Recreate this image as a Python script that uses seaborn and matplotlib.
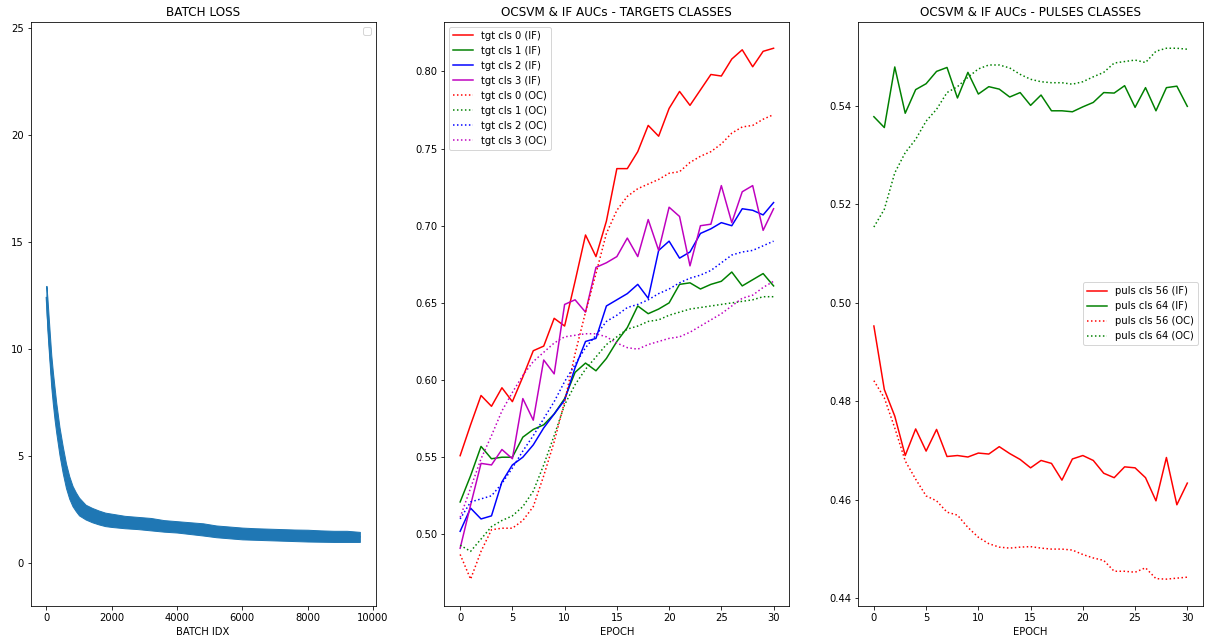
import numpy as np
import matplotlib
matplotlib.use("Agg")
import matplotlib.pyplot as plt
import seaborn as sns

# ---------------- data ----------------
epochs = np.arange(31)

# BATCH LOSS: band (lower / upper envelope and centre)
loss_batch = [0, 30, 60, 100, 150, 200, 250, 300, 400, 500, 600, 700, 800, 900, 1000,
              1200, 1400, 1600, 1800, 2000, 2400, 2800, 3200, 3600, 4000, 4400, 4800,
              5200, 5600, 6000, 6400, 6800, 7200, 7600, 8000, 8400, 8800, 9200, 9600]
loss_mid = [12.4, 11.6, 10.95, 10.0, 8.95, 8.1, 7.4, 6.8, 5.7, 4.8, 4.05, 3.5, 3.1, 2.82, 2.6,
            2.35, 2.22, 2.1, 2.02, 1.97, 1.9, 1.85, 1.8, 1.74, 1.68, 1.62, 1.55,
            1.48, 1.42, 1.38, 1.35, 1.33, 1.31, 1.29, 1.27, 1.25, 1.24, 1.23, 1.22]
loss_hi = [12.95, 12.4, 11.7, 10.8, 9.7, 8.9, 8.2, 7.5, 6.35, 5.45, 4.65, 4.05, 3.6, 3.3, 3.05,
           2.72, 2.57, 2.45, 2.35, 2.3, 2.2, 2.15, 2.1, 2.0, 1.95, 1.9, 1.85,
           1.75, 1.7, 1.65, 1.62, 1.6, 1.58, 1.56, 1.55, 1.52, 1.5, 1.5, 1.45]
loss_lo = [11.9, 10.9, 10.2, 9.3, 8.2, 7.4, 6.7, 6.1, 5.05, 4.2, 3.5, 3.0, 2.65, 2.42, 2.22,
           2.03, 1.9, 1.8, 1.72, 1.68, 1.62, 1.58, 1.52, 1.46, 1.42, 1.35, 1.28,
           1.2, 1.15, 1.1, 1.08, 1.06, 1.04, 1.02, 1.0, 0.99, 0.98, 0.98, 0.98]

# Target classes AUCs
tgt_if = {
    0: [0.551, 0.571, 0.590, 0.583, 0.595, 0.586, 0.602, 0.619, 0.622, 0.640, 0.635,
        0.664, 0.694, 0.680, 0.703, 0.737, 0.737, 0.748, 0.765, 0.758, 0.776, 0.787,
        0.778, 0.788, 0.798, 0.797, 0.808, 0.814, 0.803, 0.813, 0.815],
    1: [0.521, 0.538, 0.557, 0.549, 0.550, 0.550, 0.563, 0.568, 0.571, 0.578, 0.588,
        0.605, 0.611, 0.606, 0.614, 0.625, 0.634, 0.648, 0.643, 0.646, 0.650, 0.662,
        0.663, 0.659, 0.662, 0.664, 0.670, 0.661, 0.665, 0.669, 0.661],
    2: [0.502, 0.517, 0.510, 0.512, 0.534, 0.545, 0.550, 0.558, 0.569, 0.578, 0.587,
        0.608, 0.625, 0.627, 0.648, 0.652, 0.656, 0.662, 0.653, 0.684, 0.690, 0.679,
        0.683, 0.695, 0.698, 0.702, 0.700, 0.711, 0.710, 0.707, 0.715],
    3: [0.491, 0.519, 0.546, 0.545, 0.555, 0.549, 0.588, 0.574, 0.613, 0.604, 0.649,
        0.652, 0.644, 0.673, 0.676, 0.680, 0.692, 0.680, 0.704, 0.684, 0.712, 0.706,
        0.674, 0.700, 0.701, 0.726, 0.702, 0.722, 0.726, 0.697, 0.711],
}
tgt_oc = {
    0: [0.487, 0.471, 0.489, 0.503, 0.504, 0.504, 0.509, 0.518, 0.538, 0.560, 0.586,
        0.617, 0.644, 0.669, 0.695, 0.710, 0.719, 0.724, 0.727, 0.730, 0.734, 0.735,
        0.741, 0.745, 0.748, 0.753, 0.760, 0.764, 0.765, 0.769, 0.772],
    1: [0.493, 0.489, 0.497, 0.505, 0.509, 0.512, 0.518, 0.528, 0.545, 0.564, 0.584,
        0.597, 0.607, 0.615, 0.623, 0.628, 0.633, 0.635, 0.638, 0.639, 0.642, 0.644,
        0.646, 0.647, 0.648, 0.649, 0.650, 0.651, 0.652, 0.654, 0.654],
    2: [0.510, 0.521, 0.523, 0.525, 0.533, 0.543, 0.554, 0.564, 0.575, 0.586, 0.599,
        0.610, 0.621, 0.629, 0.638, 0.642, 0.647, 0.649, 0.652, 0.656, 0.659, 0.663,
        0.666, 0.668, 0.671, 0.676, 0.681, 0.683, 0.684, 0.687, 0.690],
    3: [0.511, 0.530, 0.549, 0.564, 0.580, 0.592, 0.603, 0.612, 0.618, 0.624, 0.628,
        0.629, 0.630, 0.630, 0.628, 0.624, 0.621, 0.620, 0.623, 0.625, 0.627, 0.628,
        0.631, 0.635, 0.639, 0.643, 0.648, 0.653, 0.655, 0.660, 0.664],
}

# Pulse classes AUCs
puls_if = {
    56: [0.4953, 0.4824, 0.4770, 0.4690, 0.4744, 0.4699, 0.4743, 0.4688, 0.4690, 0.4687,
         0.4695, 0.4693, 0.4708, 0.4694, 0.4682, 0.4665, 0.4680, 0.4674, 0.4640, 0.4683,
         0.4690, 0.4680, 0.4654, 0.4645, 0.4667, 0.4665, 0.4645, 0.4598, 0.4686, 0.4590,
         0.4634],
    64: [0.5378, 0.5356, 0.5479, 0.5385, 0.5433, 0.5445, 0.5470, 0.5478, 0.5416, 0.5468,
         0.5424, 0.5439, 0.5434, 0.5418, 0.5427, 0.5401, 0.5422, 0.5390, 0.5390, 0.5388,
         0.5398, 0.5407, 0.5427, 0.5426, 0.5441, 0.5397, 0.5437, 0.5390, 0.5437, 0.5440,
         0.5399],
}
puls_oc = {
    56: [0.4842, 0.4807, 0.4746, 0.4679, 0.4642, 0.4608, 0.4598, 0.4575, 0.4569, 0.4544,
         0.4524, 0.4511, 0.4504, 0.4502, 0.4504, 0.4505, 0.4502, 0.4500, 0.4500, 0.4498,
         0.4489, 0.4482, 0.4477, 0.4455, 0.4455, 0.4453, 0.4462, 0.4440, 0.4439, 0.4441,
         0.4443],
    64: [0.5154, 0.5190, 0.5264, 0.5305, 0.5332, 0.5369, 0.5393, 0.5427, 0.5439, 0.5458,
         0.5475, 0.5483, 0.5483, 0.5477, 0.5464, 0.5454, 0.5449, 0.5447, 0.5447, 0.5444,
         0.5449, 0.5459, 0.5468, 0.5487, 0.5490, 0.5493, 0.5488, 0.5511, 0.5517, 0.5517,
         0.5515],
}

tgt_colors = {0: "r", 1: "g", 2: "b", 3: "m"}
puls_colors = {56: "r", 64: "g"}

# ---------------- figure ----------------
fig, axes = plt.subplots(1, 3, figsize=(1210 / 72, 644 / 72), dpi=72)
fig.subplots_adjust(left=0.0254, right=0.9942, top=0.9663, bottom=0.0595, wspace=0.2)

# Batch loss
ax = axes[0]
ax.fill_between(loss_batch, loss_lo, loss_hi, color="#1f77b4", linewidth=1.0,
                edgecolor="#1f77b4")
sns.lineplot(x=np.array(loss_batch), y=np.array(loss_mid), color="#1f77b4", ax=ax)
ax.set_ylim(-2.0, 25.3)
ax.set_title("BATCH LOSS", fontsize=12)
ax.set_xlabel("BATCH IDX")
ax.set_ylabel("")
ax.legend(loc="upper right")

# Targets
ax = axes[1]
for c in [0, 1, 2, 3]:
    sns.lineplot(x=epochs, y=np.array(tgt_if[c]), color=tgt_colors[c],
                 label=f"tgt cls {c} (IF)", ax=ax)
for c in [0, 1, 2, 3]:
    sns.lineplot(x=epochs, y=np.array(tgt_oc[c]), color=tgt_colors[c], linestyle=":",
                 label=f"tgt cls {c} (OC)", ax=ax)
ax.set_title("OCSVM & IF AUCs - TARGETS CLASSES", fontsize=12)
ax.set_xlabel("EPOCH")
ax.set_ylabel("")
ax.legend(loc="upper left")

# Pulses
ax = axes[2]
for c in [56, 64]:
    sns.lineplot(x=epochs, y=np.array(puls_if[c]), color=puls_colors[c],
                 label=f"puls cls {c} (IF)", ax=ax)
for c in [56, 64]:
    sns.lineplot(x=epochs, y=np.array(puls_oc[c]), color=puls_colors[c], linestyle=":",
                 label=f"puls cls {c} (OC)", ax=ax)
ax.set_title("OCSVM & IF AUCs - PULSES CLASSES", fontsize=12)
ax.set_xlabel("EPOCH")
ax.set_ylabel("")
ax.legend(loc="center right")

fig.savefig("out.png", dpi=72)
